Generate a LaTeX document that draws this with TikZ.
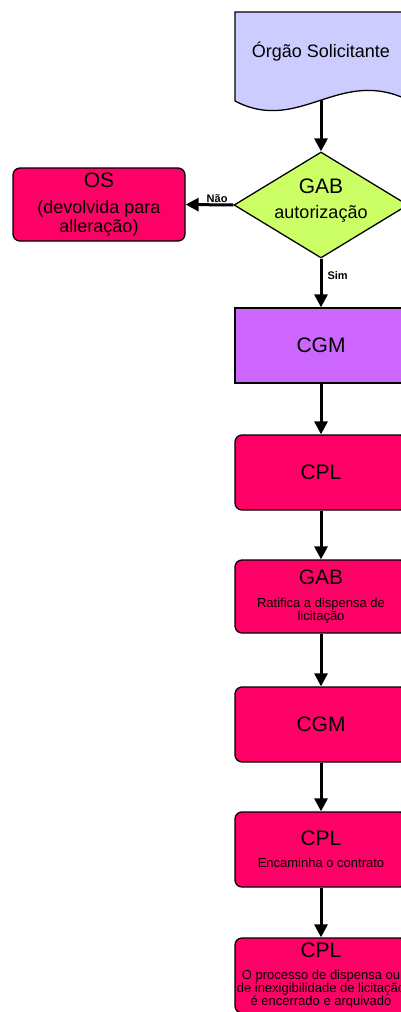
\documentclass[tikz,border=0pt]{standalone}
\usepackage{fontspec}
\setmainfont{Liberation Sans}
\usetikzlibrary{arrows.meta,shapes.geometric}
\definecolor{lav}{HTML}{CCCCFF}
\definecolor{dgreen}{HTML}{CCFF66}
\definecolor{purp}{HTML}{CC66FF}
\definecolor{pink}{HTML}{FF0066}
\tikzset{
  border/.style={draw=black, line width=1.3pt},
  rbox/.style={border, fill=pink, rounded corners=7pt, minimum width=172pt, minimum height=75pt, inner sep=0pt, align=center, font=\fontsize{13}{13}\selectfont},
  sbox/.style={border, fill=purp, minimum width=172pt, minimum height=75pt, inner sep=0pt, align=center},
  diam/.style={border, fill=dgreen, diamond, minimum width=174pt, minimum height=106pt, inner sep=0pt},
  arr/.style={line width=3pt, -{Triangle[width=13pt,length=13pt]}},
  lbl/.style={font=\bfseries\fontsize{11}{11}\selectfont, inner sep=1pt},
  ttl/.style={font=\fontsize{21}{21}\selectfont}
}
\newcommand{\ttlf}{\fontsize{21}{21}\selectfont}
\begin{document}
\begin{tikzpicture}[x=1pt,y=-1pt]
\useasboundingbox (0,0) rectangle (401,1012);
\clip (0,0) rectangle (401,1012);
% Orgao Solicitante (document shape)
\draw[border, fill=lav] (235,12) -- (410,12) -- (410,101) .. controls (340,65) and (300,135) .. (235,101) -- cycle;
\node[font=\fontsize{18}{18}\selectfont] (org) at (321,52) {Órgão Solicitante};
\coordinate (orgb) at (321,100);
% decision
\node[diam] (gab1) at (321,205) {};
\node[align=center, font=\fontsize{18}{19}\selectfont] (gab1t) at (321,201) {{\ttlf GAB}\\[6pt]autorização};
% OS
\node[rbox, minimum height=73pt, font=\fontsize{18}{19}\selectfont] (os) at (99,204.5) {{\ttlf OS}\\[7pt](devolvida para\\alleração)};
% column
\node[sbox, ttl] (cgm1) at (321,345.5) {CGM};
\node[rbox, ttl] (cpl1) at (321,472.5) {CPL};
\node[rbox, minimum height=73pt] (gab2) at (321,596.5) {{\ttlf GAB}\\[10pt]Ratifica a dispensa de\\licitação};
\node[rbox, ttl] (cgm2) at (321,724.5) {CGM};
\node[rbox] (cpl2) at (321,849.5) {{\ttlf CPL}\\[9pt]Encaminha o contrato};
\node[rbox] (cpl3) at (321,975.5) {{\ttlf CPL}\\[9pt]O processo de dispensa ou\\de inexigibilidade de licitação\\é encerrado e arquivado};
% connectors
\draw[arr] (orgb) -- (gab1.north);
\draw[arr] (gab1.west) -- node[lbl, above, pos=0.34] {Não} (os.east);
\draw[arr] (gab1.south) -- node[lbl, right, pos=0.34, xshift=4pt] {Sim} (cgm1.north);
\draw[arr] (cgm1.south) -- (cpl1.north);
\draw[arr] (cpl1.south) -- (gab2.north);
\draw[arr] (gab2.south) -- (cgm2.north);
\draw[arr] (cgm2.south) -- (cpl2.north);
\draw[arr] (cpl2.south) -- (cpl3.north);
\end{tikzpicture}
\end{document}
